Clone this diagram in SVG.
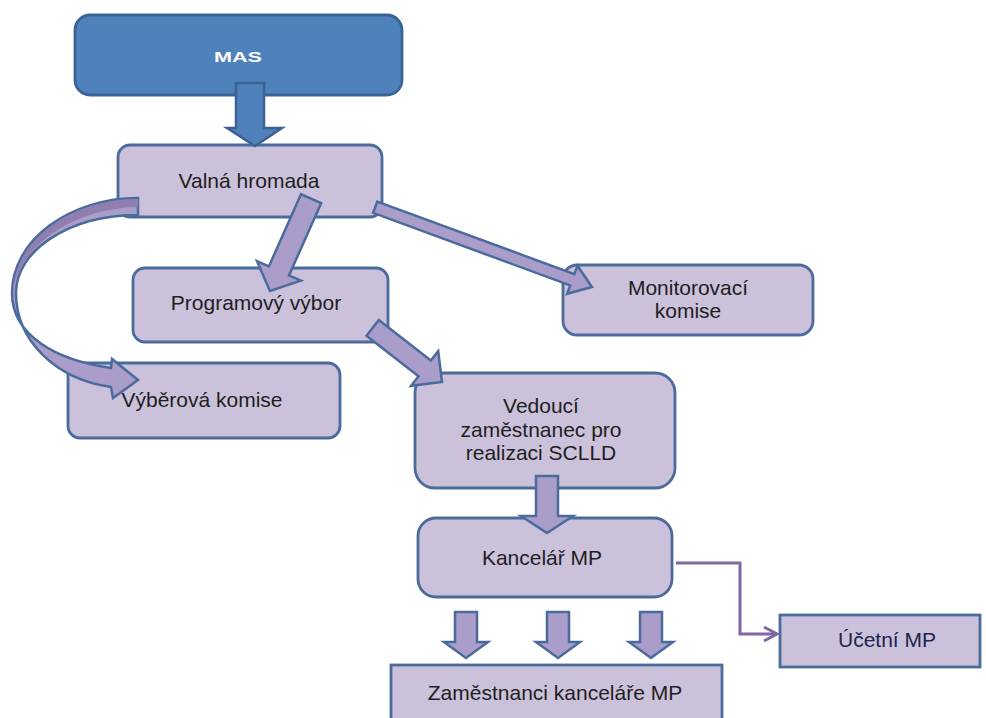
<svg xmlns="http://www.w3.org/2000/svg" width="986" height="718" viewBox="0 0 986 718">
<style>
.box{fill:#cbc1da;stroke:#4a6b9c;stroke-width:2.8}
.t{font-family:"Liberation Sans",Arial,sans-serif;font-size:21px;fill:#1e1e1e;text-anchor:middle}
.blk{fill:#ab9dca;stroke:#4a6b9c;stroke-width:2.5;stroke-linejoin:miter}
.line{fill:none;stroke:#8066a3;stroke-width:3}
</style>
<rect width="986" height="718" fill="#ffffff"/>
<g id="mas">
<rect x="75" y="15" width="327" height="80" rx="15" fill="#4f81bd" stroke="#3a6294" stroke-width="2.8"/>
<text x="238" y="62" font-family="Liberation Sans,Arial,sans-serif" font-size="15" font-weight="bold" fill="#ffffff" text-anchor="middle" textLength="48" lengthAdjust="spacingAndGlyphs">MAS</text>
</g>
<g id="valna">
<rect class="box" x="118" y="145" width="264" height="72" rx="12"/>
<text class="t" x="249" y="188">Valná hromada</text>
</g>
<g id="programovy">
<rect class="box" x="133" y="268" width="255" height="74" rx="12"/>
<text class="t" x="256" y="310">Programový výbor</text>
</g>
<g id="monitorovaci">
<rect class="box" x="563" y="265" width="250" height="70" rx="14"/>
<text class="t" x="688" y="295">Monitorovací</text>
<text class="t" x="688" y="318">komise</text>
</g>
<g id="vyberova">
<rect class="box" x="68" y="363" width="272" height="75" rx="12"/>
<text class="t" x="202" y="407">Výběrová komise</text>
</g>
<g id="vedouci">
<rect class="box" x="415" y="373" width="260" height="115" rx="20"/>
<text class="t" x="541" y="413">Vedoucí</text>
<text class="t" x="541" y="437">zaměstnanec pro</text>
<text class="t" x="541" y="460">realizaci SCLLD</text>
</g>
<g id="kancelar">
<rect class="box" x="418" y="518" width="254" height="79" rx="18"/>
<text class="t" x="542" y="565">Kancelář MP</text>
</g>
<g id="ucetni">
<rect class="box" x="780" y="615" width="200" height="52"/>
<text class="t" x="887" y="647" style="fill:#1c2450">Účetní MP</text>
</g>
<g id="zamestnanci">
<rect class="box" x="391" y="665" width="331" height="70"/>
<text class="t" x="555" y="700">Zaměstnanci kanceláře MP</text>
</g>
<g id="connectors">
<polygon points="236,83 264,83 264,128 282,128 255,146 227,128 236,128" fill="#4f81bd" stroke="#3a6294" stroke-width="2.5"/>
<g transform="translate(270,291) rotate(114)">
<polygon class="blk" points="-101,-11 -22,-11 -22,-24 0,0 -22,24 -22,11 -101,11"/>
</g>
<g transform="translate(592,287) rotate(20.2)">
<polygon class="blk" points="-231,-6 -21,-6 -21,-15 0,0 -21,15 -21,6 -231,6"/>
</g>
<g transform="translate(442,382) rotate(38)">
<polygon class="blk" points="-88,-10 -22,-10 -22,-22 0,0 -22,22 -22,10 -88,10"/>
</g>
<path class="blk" d="M138,198 C70,198 12,240 12,293 C12,335 55,360 111,368 L112,359 L138,380 L113,398 L111,387 C55,379 16,340 16,293 C16,250 70,215 138,215 Z"/>
<path d="M138,199 C72,199 14,240 13,292 C18,248 72,208 138,207 Z" fill="#8f7fb0"/>
<polygon class="blk" points="536,476 558,476 558,516 573,516 547,533 521,516 536,516"/>
<polygon class="blk" points="455,612 477,612 477,642 488,642 466,658 444,642 455,642"/>
<polygon class="blk" points="547,612 569,612 569,642 580,642 558,658 536,642 547,642"/>
<polygon class="blk" points="640,612 662,612 662,642 673,642 651,658 629,642 640,642"/>
<polyline class="line" points="676,563 740,563 740,634 776,634"/>
<polyline class="line" points="764,627 777,634 764,641"/>
</g>
</svg>
